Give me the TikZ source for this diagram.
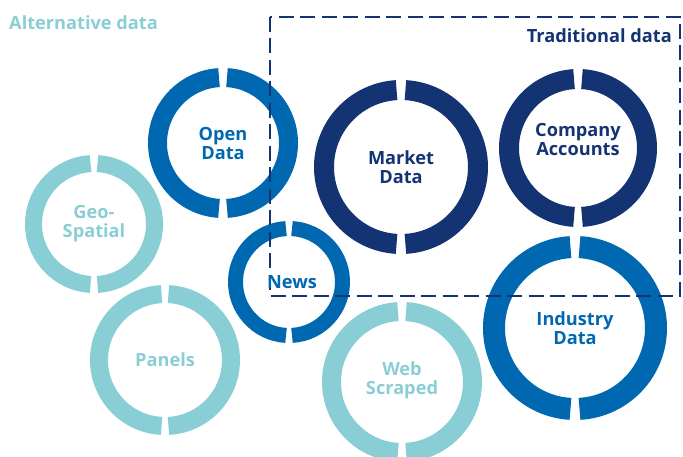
\documentclass[tikz,border=0pt]{standalone}
\usepackage{fontspec}
\setmainfont{Open Sans}
\definecolor{navy}{RGB}{20,51,115}
\definecolor{midblue}{RGB}{0,103,177}
\definecolor{teal}{RGB}{138,206,213}
\tikzset{
  lbl/.style={font=\bfseries\fontsize{18.2}{19}\selectfont, align=center, inner sep=0pt},
  title/.style={font=\bfseries\fontsize{18.2}{19}\selectfont, inner sep=0pt}
}
\begin{document}
\begin{tikzpicture}[x=1pt, y=-1pt]
\useasboundingbox (0,0) rectangle (683,457);
% ring centres
\coordinate (open) at (223,143);
\coordinate (market) at (401,167);
\coordinate (company) at (578,148);
\coordinate (geo) at (94,224);
\coordinate (news) at (289,282);
\coordinate (industry) at (575,328);
\coordinate (panels) at (165,360);
\coordinate (web) at (402,382);
% rings, each two halves
\draw[color=midblue, line width=19pt] (open) ++(86.5:65.5) arc[start angle=86.5, end angle=-86.5, radius=65.5];
\draw[color=midblue, line width=19pt] (open) ++(93.5:65.5) arc[start angle=93.5, end angle=266.5, radius=65.5];
\draw[color=navy, line width=20pt] (market) ++(86.7:77) arc[start angle=86.7, end angle=-86.7, radius=77];
\draw[color=navy, line width=20pt] (market) ++(93.3:77) arc[start angle=93.3, end angle=266.7, radius=77];
\draw[color=navy, line width=20pt] (company) ++(86.7:69) arc[start angle=86.7, end angle=-86.7, radius=69];
\draw[color=navy, line width=20pt] (company) ++(93.3:69) arc[start angle=93.3, end angle=266.7, radius=69];
\draw[color=teal, line width=17pt] (geo) ++(86.7:60.5) arc[start angle=86.7, end angle=-86.7, radius=60.5];
\draw[color=teal, line width=17pt] (geo) ++(93.3:60.5) arc[start angle=93.3, end angle=266.7, radius=60.5];
\draw[color=midblue, line width=15pt] (news) ++(86.8:53.5) arc[start angle=86.8, end angle=-86.8, radius=53.5];
\draw[color=midblue, line width=15pt] (news) ++(93.2:53.5) arc[start angle=93.2, end angle=266.8, radius=53.5];
\draw[color=midblue, line width=22pt] (industry) ++(86.8:81) arc[start angle=86.8, end angle=-86.8, radius=81];
\draw[color=midblue, line width=22pt] (industry) ++(93.2:81) arc[start angle=93.2, end angle=266.8, radius=81];
\draw[color=teal, line width=18pt] (panels) ++(87:66) arc[start angle=87, end angle=-87, radius=66];
\draw[color=teal, line width=18pt] (panels) ++(93:66) arc[start angle=93, end angle=267, radius=66];
\draw[color=teal, line width=19pt] (web) ++(86.7:70.5) arc[start angle=86.7, end angle=-86.7, radius=70.5];
\draw[color=teal, line width=19pt] (web) ++(93.3:70.5) arc[start angle=93.3, end angle=266.7, radius=70.5];
% traditional data box
\draw[color=navy, line width=2.5pt, dash pattern=on 15pt off 6.5pt] (270,17) rectangle (680,296);
% titles
\node[title, text=teal, anchor=base west] (alttitle) at (9,30) {Alternative data};
\node[title, text=navy, anchor=base east] (tradtitle) at (672,43) {Traditional data};
% labels
\node[lbl, text=midblue] (opentext) at (open) {Open\\Data};
\node[lbl, text=navy] (markettext) at (market) {Market\\Data};
\node[lbl, text=navy] (companytext) at ([yshift=8]company) {Company\\Accounts};
\node[lbl, text=teal] (geotext) at (geo) {Geo-\\Spatial};
\node[lbl, text=midblue] (newstext) at ([xshift=3]news) {News};
\node[lbl, text=midblue] (industrytext) at (industry) {Industry\\Data};
\node[lbl, text=teal] (panelstext) at (panels) {Panels};
\node[lbl, text=teal] (webtext) at ([yshift=2]web) {Web\\Scraped};
\end{tikzpicture}
\end{document}
